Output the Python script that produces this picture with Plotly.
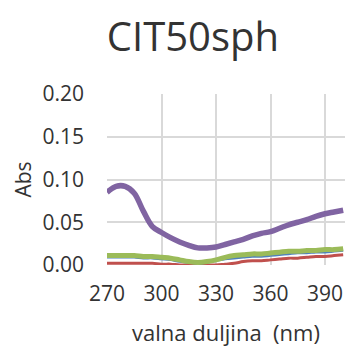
import plotly.graph_objects as go

wavelength = [270, 275, 280, 285, 290, 295, 300, 305, 310, 315, 320, 325, 330, 335, 340,
              345, 350, 355, 360, 365, 370, 375, 380, 385, 390, 395, 400]
purple = [0.085, 0.092, 0.092, 0.084, 0.063, 0.045, 0.038, 0.032, 0.027, 0.023, 0.020, 0.020,
          0.021, 0.024, 0.027, 0.030, 0.034, 0.037, 0.039, 0.043, 0.047, 0.050, 0.053, 0.057,
          0.060, 0.062, 0.064]
green = [0.011, 0.011, 0.011, 0.011, 0.010, 0.010, 0.009, 0.008, 0.006, 0.004, 0.003, 0.004,
         0.006, 0.009, 0.011, 0.012, 0.013, 0.013, 0.014, 0.015, 0.016, 0.016, 0.017, 0.017,
         0.018, 0.018, 0.019]
blue = [0.009, 0.009, 0.009, 0.009, 0.008, 0.008, 0.007, 0.006, 0.004, 0.003, 0.002, 0.003,
        0.005, 0.007, 0.008, 0.009, 0.010, 0.010, 0.011, 0.012, 0.013, 0.014, 0.014, 0.015,
        0.015, 0.016, 0.017]
red = [0.002, 0.002, 0.002, 0.002, 0.002, 0.002, 0.001, 0.001, 0.000, 0.000, 0.000, 0.000,
       0.000, 0.001, 0.002, 0.004, 0.005, 0.005, 0.006, 0.007, 0.008, 0.008, 0.009, 0.010,
       0.010, 0.011, 0.012]
x_ticks = [270, 300, 330, 360, 390]
y_ticks = [0, 0.05, 0.1, 0.15, 0.2]

fig = go.Figure()
for ys, col, w in [(red, "#C0504D", 3), (blue, "#4F81BD", 2.5), (green, "#9BBB59", 5), (purple, "#8064A2", 5.5)]:
    fig.add_trace(go.Scatter(x=wavelength, y=ys, mode="lines", line=dict(color=col, width=w, shape="spline"),
                             showlegend=False))

font = "Open Sans"
txt = "#333333"
fig.update_layout(
    width=347, height=347,
    margin=dict(l=107, r=2, t=94, b=82),
    plot_bgcolor="white", paper_bgcolor="white",
    title=dict(text="CIT50sph", x=0.556, xanchor="center", y=0.893, yanchor="middle",
               font=dict(family=font, size=40, color=txt)),
    xaxis=dict(range=[270, 401], tickvals=x_ticks, showgrid=True, gridcolor="#d9d9d9", automargin=False,
               gridwidth=1.5, zeroline=False, showline=False, ticks="", ticklabelstandoff=14,
               ticklabeloverflow="allow",
               tickfont=dict(family=font, size=21, color=txt),
               title=dict(text="valna duljina\u00a0\u00a0(nm)", font=dict(family=font, size=22, color=txt), standoff=19)),
    yaxis=dict(range=[0, 0.2], tickvals=y_ticks, tickformat=".2f", showgrid=True, automargin=False,
               gridcolor="#d9d9d9", gridwidth=1.5, zeroline=False, showline=False, ticks="", ticklabelstandoff=22,
               tickfont=dict(family=font, size=21, color=txt),
               title=dict(text="Abs", font=dict(family=font, size=21, color=txt), standoff=5)),
)
fig.write_html("out.html", config={"displayModeBar": False},
               post_script="document.body.style.margin='0';")
